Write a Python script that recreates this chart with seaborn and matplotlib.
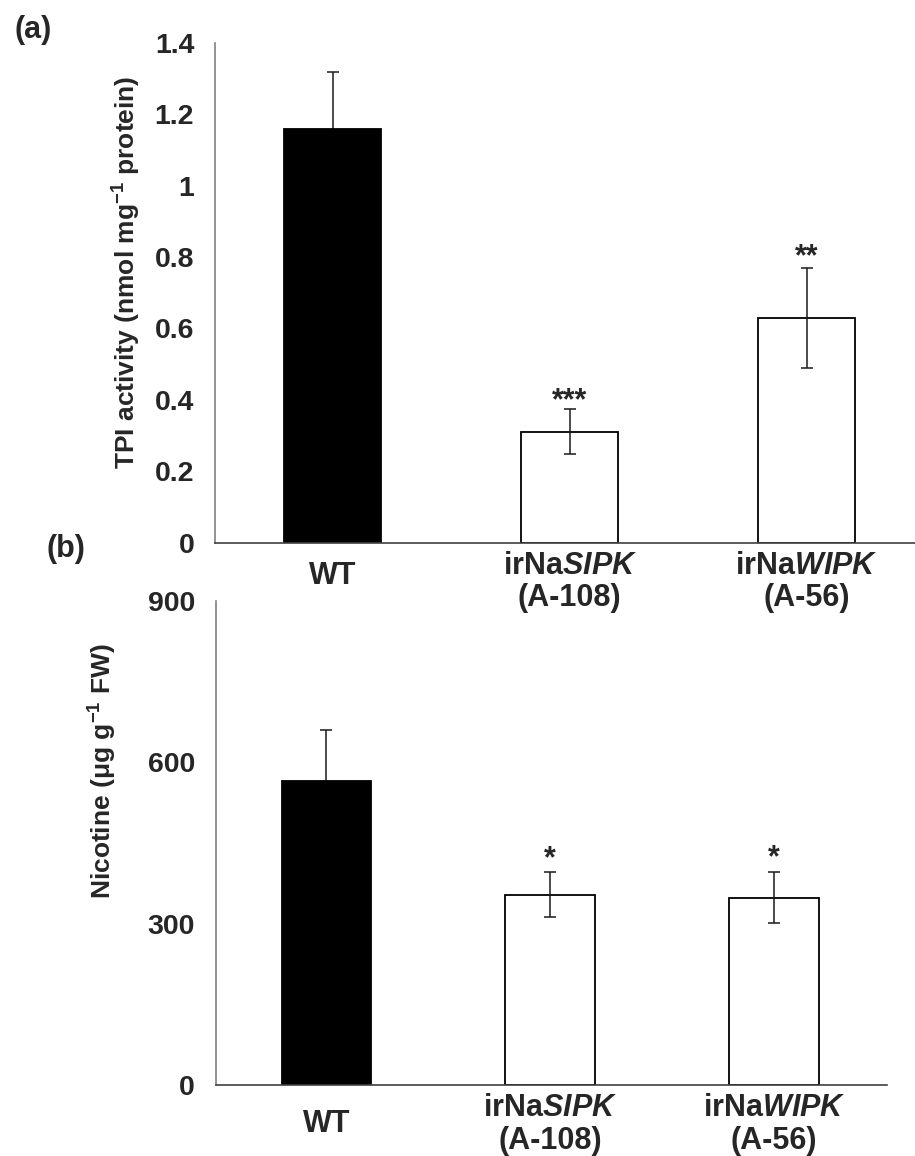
import numpy as np
import pandas as pd
import matplotlib
matplotlib.use("Agg")
import matplotlib.pyplot as plt
import seaborn as sns

# Genotypes and measured means / standard errors
genotypes = ["WT", "irNa$\\mathit{SIPK}$\n(A-108)", "irNa$\\mathit{WIPK}$\n(A-56)"]
tpi_mean = [1.16, 0.31, 0.63]
tpi_se = [0.16, 0.063, 0.14]
tpi_stars = ["", "***", "**"]

nic_mean = [564, 354, 348]
nic_se = [95, 42, 47]
nic_stars = ["", "*", "*"]

bar_colors = ["black", "white", "white"]
tpi_ticks = [0, 0.2, 0.4, 0.6, 0.8, 1.0, 1.2, 1.4]
tpi_ticklabels = ["0", "0.2", "0.4", "0.6", "0.8", "1", "1.2", "1.4"]
nic_ticks = [0, 300, 600, 900]

sns.set_style("white")
plt.rcParams["font.family"] = ["Liberation Sans", "DejaVu Sans"]
plt.rcParams["font.weight"] = "bold"
plt.rcParams["mathtext.fontset"] = "custom"
plt.rcParams["mathtext.rm"] = "Liberation Sans:bold"
plt.rcParams["mathtext.it"] = "Liberation Sans:italic:bold"
plt.rcParams["mathtext.bf"] = "Liberation Sans:bold"

fig = plt.figure(figsize=(9.15, 11.56), dpi=100)
ax_a = fig.add_axes([0.235, 0.5307, 0.765, 0.4321])
ax_b = fig.add_axes([0.2357, 0.0614, 0.7333, 0.4190])
for ax in (ax_a, ax_b):
    ax.patch.set_visible(False)


def draw_panel(ax, means, ses, stars, width, xlim, ylim, ticks, ticklabels,
               ylabel, label_xy, label_size, star_offsets, xpad, wt_drop):
    df = pd.DataFrame({"genotype": genotypes, "value": means})
    sns.barplot(data=df, x="genotype", y="value", hue="genotype",
                palette=bar_colors, edgecolor="black", linewidth=1.3,
                width=width, errorbar=None, legend=False, ax=ax, zorder=2)
    xs = np.arange(len(means))
    for x, m, s, c in zip(xs, means, ses, bar_colors):
        # whiskers on filled bars sit behind the bar, so only the upper half shows
        z = 1 if c == "black" else 3
        ax.errorbar([x], [m], yerr=[s], fmt="none", ecolor="#1a1a1a",
                    elinewidth=1.1, capsize=4, capthick=1.1, zorder=z)
    for x, m, s, st, off in zip(xs, means, ses, stars, star_offsets):
        if st:
            ax.annotate(st, (x, m + s), xytext=(0, off),
                        textcoords="offset points", ha="center",
                        va="baseline", fontsize=22, fontweight="bold")
    ax.set_xlim(*xlim)
    ax.set_ylim(*ylim)
    ax.set_yticks(ticks)
    ax.set_yticklabels(ticklabels)
    ax.set_xlabel("")
    ax.set_ylabel(ylabel, fontsize=label_size, fontweight="bold", va="center")
    ax.yaxis.set_label_coords(*label_xy)
    for side in ("top", "right"):
        ax.spines[side].set_visible(False)
    ax.spines["left"].set_color("#808080")
    ax.spines["bottom"].set_color("#404040")
    ax.spines["left"].set_linewidth(1.2)
    ax.spines["bottom"].set_linewidth(1.2)
    ax.tick_params(axis="y", direction="out", length=7, width=1.0,
                   color="#808080", pad=8, labelsize=20.5)
    ax.tick_params(axis="x", length=0, pad=xpad, labelsize=22)
    for lab in ax.get_xticklabels() + ax.get_yticklabels():
        lab.set_fontweight("bold")
    for lab in ax.get_xticklabels():
        lab.set_linespacing(1.1)
    # the single-line WT label sits a little lower than the two-line labels
    ax.get_xticklabels()[0].set_y(wt_drop)


draw_panel(ax_a, tpi_mean, tpi_se, tpi_stars, 0.41, (-0.496, 2.456), (0, 1.4),
           tpi_ticks, tpi_ticklabels,
           "TPI activity (nmol mg$^{\\mathregular{-1}}$ protein)",
           (-0.126, 0.541), 19, [0, 0, 2], 6, -0.02)
draw_panel(ax_b, nic_mean, nic_se, nic_stars, 0.40, (-0.495, 2.503), (0, 900),
           nic_ticks, [str(t) for t in nic_ticks],
           "Nicotine (\u03bcg g$^{\\mathregular{-1}}$ FW)",
           (-0.1687, 0.648), 19, [0, 3.5, 4.5], 6, -0.032)

fig.text(14 / 915, 1 - 30 / 1156, "(a)", ha="left", va="center",
         fontsize=22, fontweight="bold")
fig.text(47 / 915, 1 - 549 / 1156, "(b)", ha="left", va="center",
         fontsize=22, fontweight="bold")

fig.savefig("out.png", dpi=100, facecolor="white")
